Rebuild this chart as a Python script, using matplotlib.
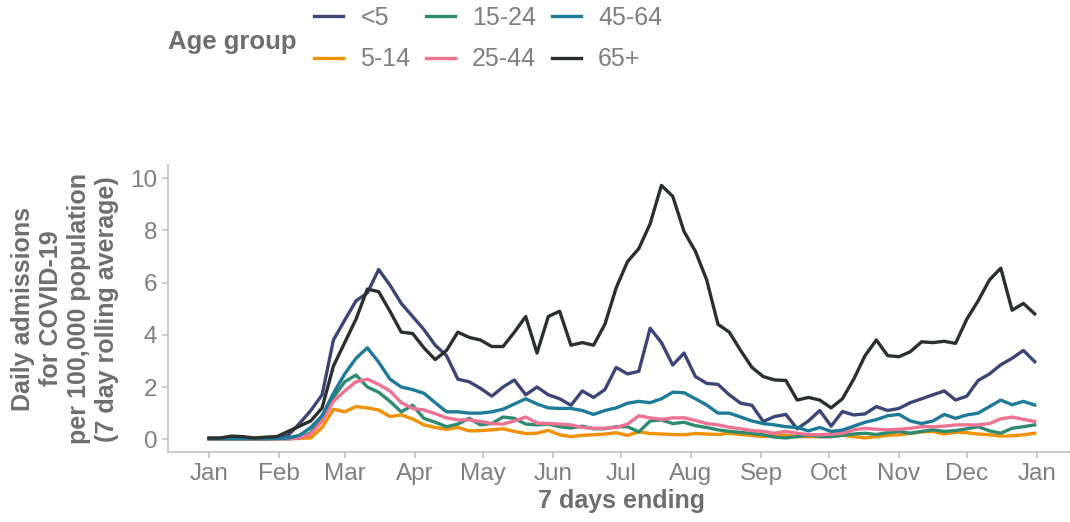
import matplotlib
matplotlib.use("Agg")
import matplotlib.pyplot as plt
import matplotlib.dates as mdates
import numpy as np

# days since 1 Jan 2020, every 5 days
days = list(range(0, 366, 5))

under5 = [0.02, 0.02, 0.03, 0.02, 0.03, 0.02, 0.04, 0.15, 0.6, 1.1, 1.7, 3.8, 4.56, 5.3, 5.6, 6.5,
          5.9, 5.2, 4.7, 4.2, 3.6, 3.2, 2.3, 2.2, 1.95, 1.65, 2.0, 2.27, 1.7, 2.0, 1.7, 1.55,
          1.3, 1.85, 1.6, 1.9, 2.75, 2.5, 2.6, 4.25, 3.7, 2.84, 3.3, 2.4, 2.14, 2.1, 1.7, 1.38,
          1.3, 0.68, 0.87, 0.95, 0.4, 0.7, 1.1, 0.5, 1.06, 0.93, 0.97, 1.25, 1.1, 1.18, 1.4,
          1.55, 1.7, 1.85, 1.5, 1.65, 2.25, 2.5, 2.85, 3.1, 3.4, 2.97]
age5_14 = [0.02, 0.02, 0.02, 0.02, 0.02, 0.02, 0.02, 0.02, 0.03, 0.05, 0.45, 1.15, 1.05, 1.25,
           1.2, 1.12, 0.87, 0.93, 0.78, 0.55, 0.45, 0.38, 0.45, 0.32, 0.33, 0.36, 0.4, 0.3,
           0.22, 0.23, 0.34, 0.17, 0.1, 0.15, 0.17, 0.2, 0.25, 0.15, 0.28, 0.22, 0.2, 0.18,
           0.17, 0.22, 0.2, 0.18, 0.23, 0.18, 0.15, 0.1, 0.15, 0.15, 0.1, 0.1, 0.1, 0.1, 0.15,
           0.1, 0.05, 0.1, 0.15, 0.17, 0.22, 0.28, 0.3, 0.2, 0.27, 0.25, 0.2, 0.17, 0.12, 0.13,
           0.17, 0.23]
age15_24 = [0.02, 0.02, 0.02, 0.02, 0.02, 0.02, 0.02, 0.02, 0.05, 0.25, 0.9, 1.6, 2.2, 2.46,
            2.0, 1.8, 1.45, 1.05, 1.3, 0.8, 0.65, 0.48, 0.58, 0.8, 0.55, 0.6, 0.85, 0.8, 0.58,
            0.55, 0.58, 0.48, 0.43, 0.5, 0.4, 0.4, 0.48, 0.48, 0.28, 0.7, 0.74, 0.6, 0.65, 0.52,
            0.45, 0.36, 0.3, 0.26, 0.22, 0.17, 0.08, 0.05, 0.1, 0.16, 0.1, 0.1, 0.15, 0.2, 0.23,
            0.18, 0.25, 0.3, 0.23, 0.3, 0.36, 0.3, 0.33, 0.4, 0.48, 0.32, 0.23, 0.42, 0.48, 0.55]
age25_44 = [0.02, 0.02, 0.02, 0.02, 0.02, 0.02, 0.02, 0.02, 0.04, 0.2, 0.7, 1.45, 1.85, 2.2,
            2.3, 2.1, 1.85, 1.4, 1.18, 1.12, 0.98, 0.82, 0.74, 0.74, 0.68, 0.6, 0.58, 0.7, 0.85,
            0.62, 0.6, 0.58, 0.55, 0.45, 0.42, 0.42, 0.45, 0.58, 0.9, 0.82, 0.76, 0.82, 0.82,
            0.72, 0.6, 0.55, 0.46, 0.4, 0.33, 0.3, 0.23, 0.3, 0.23, 0.18, 0.17, 0.2, 0.23, 0.36,
            0.42, 0.38, 0.36, 0.38, 0.42, 0.48, 0.48, 0.5, 0.55, 0.55, 0.55, 0.6, 0.78, 0.85,
            0.76, 0.68]
age45_64 = [0.02, 0.02, 0.02, 0.02, 0.02, 0.02, 0.03, 0.05, 0.15, 0.45, 0.9, 1.76, 2.5, 3.1,
            3.5, 2.95, 2.3, 2.0, 1.9, 1.76, 1.4, 1.05, 1.05, 1.0, 1.0, 1.05, 1.15, 1.35, 1.55,
            1.35, 1.2, 1.18, 1.18, 1.1, 0.95, 1.1, 1.2, 1.38, 1.45, 1.4, 1.55, 1.8, 1.78, 1.55,
            1.31, 1.0, 1.0, 0.85, 0.7, 0.6, 0.55, 0.48, 0.45, 0.32, 0.45, 0.3, 0.35, 0.5, 0.65,
            0.75, 0.9, 0.95, 0.7, 0.6, 0.7, 0.95, 0.8, 0.93, 1.0, 1.25, 1.5, 1.32, 1.45, 1.31]
age65plus = [0.05, 0.05, 0.12, 0.1, 0.05, 0.08, 0.1, 0.3, 0.5, 0.7, 1.2, 2.8, 3.7, 4.6, 5.75,
             5.65, 4.9, 4.1, 4.05, 3.5, 3.05, 3.4, 4.1, 3.9, 3.8, 3.55, 3.55, 4.1, 4.7, 3.3,
             4.7, 4.9, 3.6, 3.7, 3.6, 4.4, 5.8, 6.8, 7.3, 8.25, 9.72, 9.3, 7.95, 7.2, 6.1, 4.4,
             4.1, 3.4, 2.75, 2.4, 2.27, 2.25, 1.5, 1.6, 1.5, 1.2, 1.55, 2.3, 3.2, 3.8, 3.2,
             3.16, 3.35, 3.73, 3.7, 3.75, 3.67, 4.6, 5.3, 6.1, 6.55, 4.94, 5.2, 4.8]

labels = ["<5", "5-14", "15-24", "25-44", "45-64", "65+"]
series = [under5, age5_14, age15_24, age25_44, age45_64, age65plus]
colors = ["#3b4677", "#f29100", "#2e8a70", "#ef7390", "#1d7a99", "#2a302e"]

plt.rcParams["font.family"] = ["Liberation Sans", "DejaVu Sans"]
grey = "#7f7f7f"
dark_grey = "#6e6e6e"
axis_grey = "#c4c4c4"

start = np.datetime64("2020-01-01")
x = start + np.array(days).astype("timedelta64[D]")

fig = plt.figure(figsize=(10.7, 5.22), dpi=100)
ax = fig.add_axes([167.7 / 1070, 69.7 / 522, (1076 - 167.7) / 1070, (452.3 - 165) / 522])

for vals, lab, col in zip(series, labels, colors):
    ax.plot(x, vals, color=col, lw=2.4, label=lab, solid_joinstyle="round")

ax.set_ylim(-0.5, 10.5)
ax.set_xlim(start - np.timedelta64(438, "h"), start + np.timedelta64(9198, "h"))
ax.set_yticks([0, 2, 4, 6, 8, 10])
ax.xaxis.set_major_locator(mdates.MonthLocator())
ax.xaxis.set_major_formatter(mdates.DateFormatter("%b"))

for s in ["top", "right"]:
    ax.spines[s].set_visible(False)
for s in ["left", "bottom"]:
    ax.spines[s].set_color(axis_grey)
    ax.spines[s].set_linewidth(1.2)
ax.tick_params(colors=axis_grey, labelcolor=grey, labelsize=17.5, length=4, width=1.2)

ax.set_xlabel("7 days ending", fontsize=18, fontweight="bold", color=dark_grey, labelpad=3)
ax.set_ylabel("Daily admissions\nfor COVID-19\nper 100,000 population\n(7 day rolling average)",
              fontsize=18, fontweight="bold", color=dark_grey, linespacing=1.22, labelpad=8)

fig.text(168 / 1070, 1 - 42 / 522, "Age group", fontsize=18.5, fontweight="bold",
         color=dark_grey, va="center", ha="left")
leg = fig.legend(loc="upper left", bbox_to_anchor=(314 / 1070, 1 - 6 / 522), ncol=3,
                 frameon=False, fontsize=18, handlelength=1.15, handletextpad=0.7,
                 columnspacing=0.62, labelspacing=0.7, borderpad=0, borderaxespad=0)
for t in leg.get_texts():
    t.set_color(grey)

fig.savefig("out.png", dpi=100)
